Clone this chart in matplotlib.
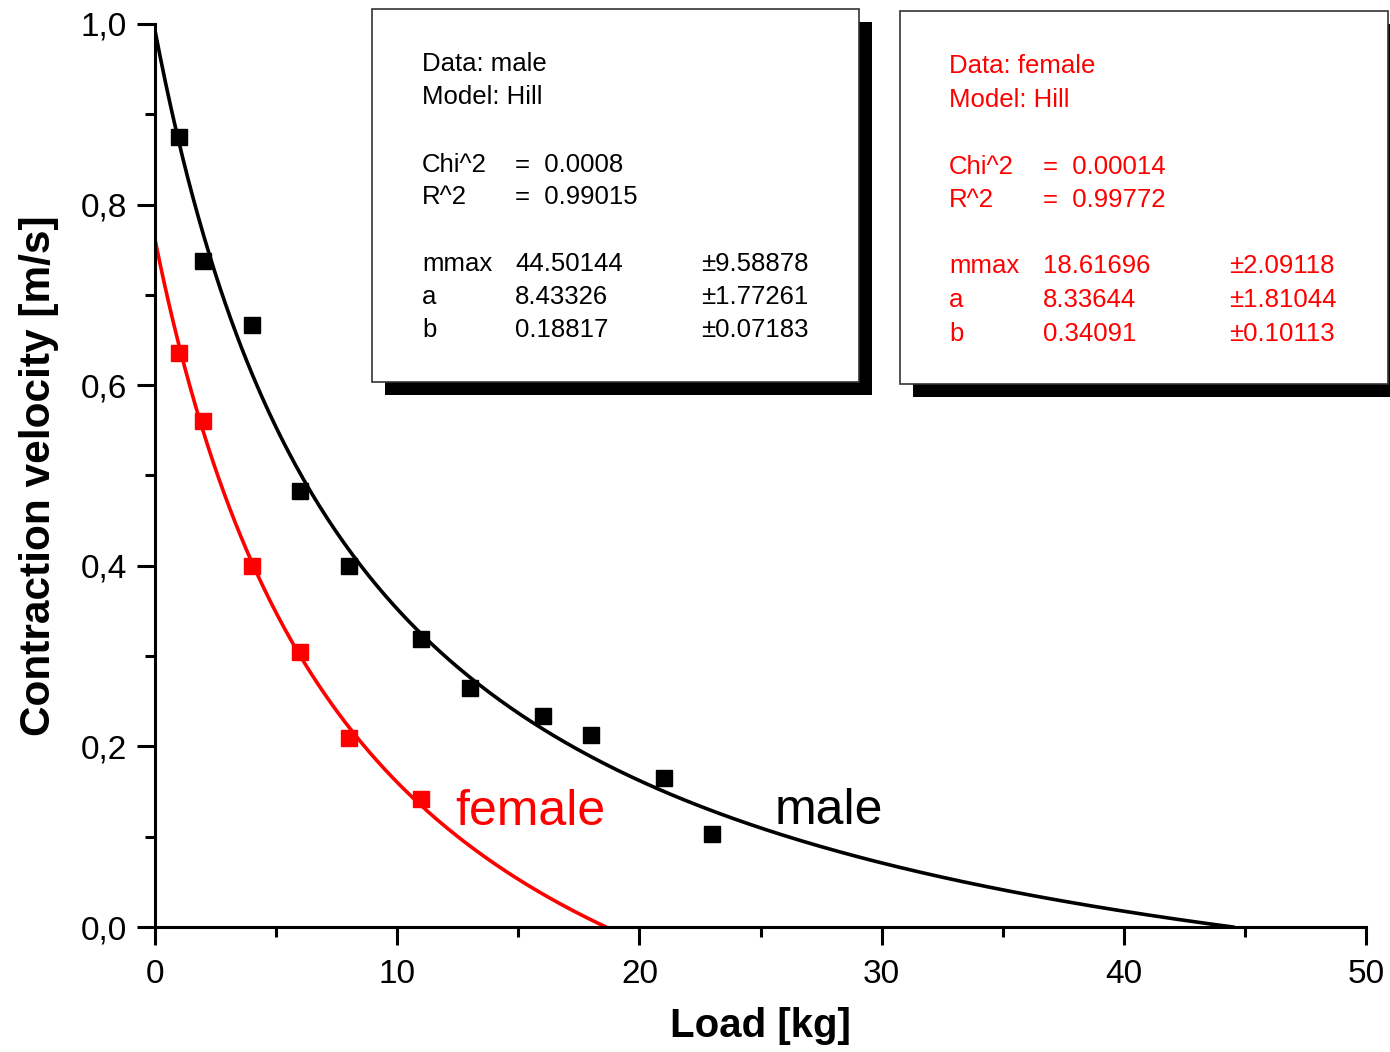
import numpy as np
import matplotlib.pyplot as plt
from matplotlib.patches import Rectangle
from matplotlib.ticker import MultipleLocator, FuncFormatter

plt.rcParams['font.family'] = ['Liberation Sans', 'DejaVu Sans']

# measured data
male_load = [1, 2, 4, 6, 8, 11, 13, 16, 18, 21, 23]
male_vel = [0.875, 0.737, 0.667, 0.483, 0.400, 0.319, 0.265, 0.234, 0.213, 0.165, 0.103]
female_load = [1, 2, 4, 6, 8, 11]
female_vel = [0.636, 0.560, 0.400, 0.305, 0.209, 0.142]

# Hill fit parameters (from the fit boxes)
male_fit = {'mmax': 44.50144, 'a': 8.43326, 'b': 0.18817}
female_fit = {'mmax': 18.61696, 'a': 8.33644, 'b': 0.34091}

male_box = [("Data: male", "", ""), ("Model: Hill", "", ""),
            ("Chi^2", "=  0.0008", ""), ("R^2", "=  0.99015", ""),
            ("mmax", "44.50144", "\u00b19.58878"), ("a", "8.43326", "\u00b11.77261"),
            ("b", "0.18817", "\u00b10.07183")]
female_box = [("Data: female", "", ""), ("Model: Hill", "", ""),
              ("Chi^2", "=  0.00014", ""), ("R^2", "=  0.99772", ""),
              ("mmax", "18.61696", "\u00b12.09118"), ("a", "8.33644", "\u00b11.81044"),
              ("b", "0.34091", "\u00b10.10113")]


def hill(x, p):
    return p['b'] * (p['mmax'] - x) / (x + p['a'])


W, H = 1390, 1052
fig = plt.figure(figsize=(W / 100, H / 100), dpi=100)
ax = fig.add_axes([155 / W, 1 - 927 / H, (1366 - 155) / W, (927 - 24) / H])

for p, col in [(male_fit, 'black'), (female_fit, 'red')]:
    xs = np.linspace(0, p['mmax'], 400)
    ax.plot(xs, hill(xs, p), color=col, lw=2.6, zorder=2)

ax.plot(male_load, male_vel, 's', color='black', ms=11.5, zorder=3)
ax.plot(female_load, female_vel, 's', color='red', ms=11.5, zorder=3)

ax.text(12.4, 0.127, "female", color='red', fontsize=36, va='center')
ax.text(25.6, 0.128, "male", color='black', fontsize=36, va='center')

ax.set_xlim(0, 50)
ax.set_ylim(0, 1.0)
ax.xaxis.set_major_locator(MultipleLocator(10))
ax.xaxis.set_minor_locator(MultipleLocator(5))
ax.yaxis.set_major_locator(MultipleLocator(0.2))
ax.yaxis.set_minor_locator(MultipleLocator(0.1))
ax.yaxis.set_major_formatter(FuncFormatter(lambda v, pos: f"{v:.1f}".replace('.', ',')))
ax.tick_params(which='major', length=13, width=2.2, labelsize=24, pad=7)
ax.tick_params(axis='x', which='major', pad=10)
ax.tick_params(which='minor', length=7, width=2.2)
for s in ['top', 'right']:
    ax.spines[s].set_visible(False)
for s in ['left', 'bottom']:
    ax.spines[s].set_linewidth(2.2)
    ax.spines[s].set_clip_on(False)

ax.set_xlabel("Load [kg]", fontsize=29, fontweight='bold', labelpad=12)
ax.set_ylabel("Contraction velocity [m/s]", fontsize=30.5, fontweight='bold', labelpad=16)


def draw_box(x0, y0, x1, y1, rows, col, cols, baselines):
    w, h = (x1 - x0) / W, (y1 - y0) / H
    # black drop shadow, then the white box on top
    fig.patches.append(Rectangle(((x0 + 13) / W, 1 - (y1 + 13) / H), w, h,
                                 transform=fig.transFigure,
                                 facecolor='black', edgecolor='none', zorder=5))
    fig.patches.append(Rectangle((x0 / W, 1 - y1 / H), w, h,
                                 transform=fig.transFigure, facecolor='white',
                                 edgecolor='#333333', lw=1.2, zorder=6))
    for row, yb in zip(rows, baselines):
        for txt, xc in zip(row, cols):
            if txt:
                fig.text(xc / W, 1 - yb / H, txt, color=col, fontsize=18.5,
                         va='baseline', zorder=7)


draw_box(372, 9, 859, 382, male_box, 'black', [422, 515, 701],
         [71, 104, 172, 204, 271, 304, 337])
draw_box(900, 11, 1388, 384, female_box, 'red', [949, 1043, 1229],
         [73, 107, 174, 207, 273, 307, 341])

fig.savefig("out.png", dpi=100)
